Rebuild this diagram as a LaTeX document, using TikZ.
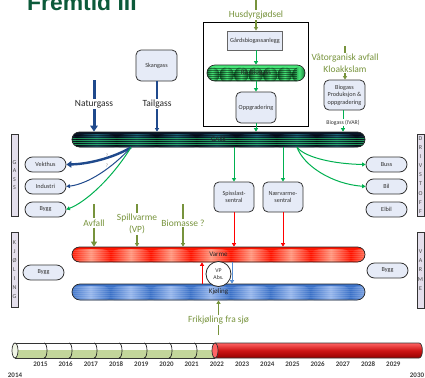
\documentclass[tikz,border=0pt]{standalone}
\usepackage{fontspec}
\setmainfont{Carlito}
\newfontfamily\titlefont{Liberation Sans}
\usetikzlibrary{arrows.meta,calc}
\definecolor{ogreen}{RGB}{119,147,60}
\definecolor{agreen}{RGB}{0,176,80}
\definecolor{dblue}{RGB}{31,73,140}
\definecolor{lblue}{RGB}{85,142,213}
\definecolor{boxfill}{RGB}{230,235,247}
\definecolor{lav}{RGB}{228,223,236}
\definecolor{titlegreen}{RGB}{12,90,58}
\definecolor{gdark}{RGB}{8,20,38}
\definecolor{gmid}{RGB}{30,100,120}
\definecolor{gline}{RGB}{45,195,105}
\definecolor{rdark}{RGB}{15,90,40}
\definecolor{rlight}{RGB}{70,230,120}
\definecolor{vred}{RGB}{255,20,0}
\definecolor{vlight}{RGB}{255,150,125}
\definecolor{kblue}{RGB}{60,114,200}
\definecolor{klight}{RGB}{150,182,236}
\definecolor{tlgreen}{RGB}{195,214,155}
\definecolor{tllight}{RGB}{240,245,230}
\definecolor{tlrtop}{RGB}{255,100,100}
\definecolor{tlrmid}{RGB}{205,20,20}
\definecolor{tlrbot}{RGB}{150,0,0}
\tikzset{
  lbl/.style={font=\fontsize{9.5}{11.5}\selectfont, text=ogreen, inner sep=1bp, align=center},
  blk/.style={font=\fontsize{9.5}{11.5}\selectfont, text=black!85, inner sep=1bp},
  rbox/.style={draw=black!80, line width=0.8bp, fill=boxfill, rounded corners=5bp, align=center,
    font=\fontsize{6.2}{7.6}\selectfont, text=black!80, inner sep=0},
  pill/.style={draw=black!80, line width=0.8bp, fill=boxfill, rounded corners=7.5bp,
    minimum width=41bp, minimum height=15bp, font=\fontsize{6.2}{7}\selectfont, text=black!80, inner sep=0},
  vbox/.style={draw=black!80, line width=0.7bp, fill=lav, minimum width=7bp, inner sep=0, align=center,
    text=black!70},
  bar/.style={draw=black!85, line width=0.7bp, inner sep=0, font=\fontsize{7}{8}\selectfont, text=black!85},
  arr/.style={-{Triangle[length=3.5bp,width=4bp]}},
  ga/.style={agreen, line width=1bp, arr},
  ra/.style={red, line width=1bp, arr},
  og/.style={ogreen, line width=1.1bp},
  yrs/.style={font=\bfseries\fontsize{7}{8}\selectfont, text=black!75, inner sep=0},
}
\begin{document}
\begin{tikzpicture}[x=1bp,y=-1bp]
\useasboundingbox (0,0) rectangle (425,378);
% ---------- title
\node[anchor=base west, inner sep=0, font=\titlefont\bfseries\fontsize{23}{23}\selectfont, text=titlegreen] (title) at (27,10) {Fremtid III};

% ---------- biogas plant
\node[draw=black, line width=0.9bp, minimum width=105bp, minimum height=104bp, inner sep=0] (plant) at (255.5,74) {};
\node[lbl] (husd) at (256,15) {Husdyrgjødsel};
\coordinate (husdtop) at (256,0);
\node[draw=black!60, line width=0.8bp, fill=boxfill, minimum width=55bp, minimum height=19bp, inner sep=0,
  font=\fontsize{6.2}{7}\selectfont, text=black!80] (gard) at (255,40.5) {Gårdsbiogassanlegg};
\node[bar, rounded corners=8bp, minimum width=98bp, minimum height=16bp, fill=rlight, path picture={
   \foreach \k in {0,...,9} \shade[left color=rdark, right color=rdark, middle color=rlight] (-65+14.5*\k,-8) rectangle ++(14.5,16);
   \foreach \yy in {-7,-5,...,7} \draw[black, opacity=.45, line width=.45bp] (-56,\yy) -- (56,\yy);
  }] (raa) at (256,73) {Rå-biogass};
\node[rbox, minimum width=40bp, minimum height=31bp] (oppg) at (256,107.5) {Oppgradering};

% ---------- other sources
\node[rbox, minimum width=41bp, minimum height=31bp] (skang) at (156.5,65.5) {Skangass};
\node[blk] (natur) at (94,104) {Naturgass};
\coordinate (naturtop) at (94,80);
\node[blk] (tail) at (157,104) {Tailgass};
\node[rbox, minimum width=41bp, minimum height=30bp] (bprod) at (344.5,95) {Biogass\\Produksjon \&\\oppgradering};
\node[lbl] (vaat) at (345,63) {Våtorganisk avfall\\Kloakkslam};
\coordinate (vaattop) at (345,46);
\node[font=\fontsize{5.8}{7}\selectfont, text=black!80, inner sep=0.5bp] (ivar) at (343,122.5) {Biogass (IVAR)};

% ---------- GASS bar
\node[bar, rounded corners=7.5bp, minimum width=293bp, minimum height=15bp, fill=gdark, path picture={
   \foreach \k in {0,...,8} \shade[left color=gdark, right color=gdark, middle color=gmid] (-174.5+40*\k,-7.5) rectangle ++(40,15);
   \foreach \yy in {-6.5,-4.5,...,7.5} \draw[black, opacity=.45, line width=.5bp] (-160,\yy) -- (160,\yy);
   \foreach \yy in {-3,-1,1,3} \draw[gline, opacity=.7, line width=.6bp] (-160,\yy) -- (160,\yy);
  }] (gass) at (218.5,139.5) {GASS};
\coordinate (gl) at ([xshift=-87.5bp]gass.south);
\coordinate (gr) at ([xshift=78.5bp]gass.south);

% ---------- side label boxes
\node[vbox, minimum height=82bp, font=\fontsize{6}{8.6}\selectfont] (vgass) at (14.5,175) {G\\A\\S\\S};
\node[vbox, minimum height=75bp, font=\fontsize{6}{9}\selectfont] (vkjol) at (14.5,269.5) {K\\J\\Ø\\L\\I\\N\\G};
\node[vbox, minimum height=82bp, font=\fontsize{6}{9.1}\selectfont] (vdriv) at (420.5,175) {D\\R\\I\\V\\S\\T\\O\\F\\F};
\node[vbox, minimum height=76bp, font=\fontsize{6}{9.2}\selectfont] (vvarm) at (420.5,270) {V\\A\\R\\M\\E};

% ---------- consumers
\node[pill] (vekt) at (45.5,164.5) {Vekthus};
\node[pill] (indu) at (45.5,186.5) {Industri};
\node[pill] (byggg) at (45.5,209.5) {Bygg};
\node[pill] (byggk) at (43.5,272.5) {Bygg};
\node[pill] (buss) at (386.5,164.5) {Buss};
\node[pill] (bil) at (386.5,186.5) {Bil};
\node[pill] (elbil) at (386.5,209.5) {Elbil};
\node[pill] (byggv) at (387.5,270.5) {Bygg};
\node[rbox, minimum width=40bp, minimum height=30bp] (spiss) at (234,197) {Spisslast-\\sentral};
\node[rbox, minimum width=40bp, minimum height=30bp] (naer) at (283,197) {Nærvarme-\\sentral};

% ---------- Varme / Kjøling
\node[bar, rounded corners=7.5bp, minimum width=293bp, minimum height=15bp, fill=vred, path picture={
   \foreach \k in {0,...,8} \shade[left color=vred, right color=vred, middle color=vlight] (-178.5+40*\k,-7.5) rectangle ++(40,15);
   \foreach \yy in {-6.5,-4.5,...,7.5} \draw[white, opacity=.12, line width=.5bp] (-160,\yy) -- (160,\yy);
  }] (varme) at (218.5,254.5) {Varme};
\node[bar, rounded corners=8bp, minimum width=293bp, minimum height=16bp, fill=kblue, path picture={
   \foreach \k in {0,...,8} \shade[left color=kblue, right color=kblue, middle color=klight] (-178.5+40*\k,-8) rectangle ++(40,16);
   \foreach \yy in {-7,-5,...,8} \draw[white, opacity=.12, line width=.5bp] (-160,\yy) -- (160,\yy);
  }] (kjol) at (218.5,292) {Kjøling};
\node[circle, draw=black!85, line width=0.8bp, fill=white, minimum size=25bp, inner sep=0, align=center,
  font=\fontsize{5.8}{7.4}\selectfont, text=black!80] (vp) at (218.5,274) {VP\\Abs.};
\coordinate (xr) at (202,0);
\coordinate (xb) at (232,0);

\node[lbl] (avf) at (94,223) {Avfall};
\coordinate (avftop) at (94,204);
\node[lbl] (spill) at (137,224) {Spillvarme\\(VP)};
\coordinate (spilltop) at (137,204);
\node[lbl] (biom) at (183,223) {Biomasse ?};
\coordinate (biomtop) at (183,204);
\node[lbl] (frik) at (218.5,320) {Frikjøling fra sjø};
\coordinate (frikbot) at (218.5,335);

% ---------- connectors
\draw[og] (husdtop) -- (husd.north);
\draw[og, arr] (husd.south) -- (husd.south |- gard.north);
\draw[ga] (gard.south -| raa) -- (raa.north);
\draw[ga] (raa.south) -- (oppg.north);
\draw[ga] (oppg.south) -- (gass.north -| oppg);

\draw[dblue, line width=3bp] (naturtop) -- (natur.north);
\draw[dblue, line width=3bp, -{Triangle[length=6bp,width=7.5bp]}] (natur.south) -- (gass.north -| natur);
\draw[dblue, line width=1.1bp] (skang.south -| tail) -- (tail.north);
\draw[dblue, line width=1.1bp, arr] (tail.south) -- (gass.north -| tail);

\draw[og] (vaattop) -- (vaat.north);
\draw[og, arr] (vaat.south) -- (vaat.south |- bprod.north);
\draw[agreen, line width=1bp] (bprod.south -| ivar) -- (ivar.north);
\draw[ga] (ivar.south) -- (gass.north -| ivar);

\draw[dblue, line width=2.4bp, -{Triangle[length=5bp,width=6.5bp]}] (gl) .. controls (115,157) and (90,164) .. (vekt.east);
\draw[dblue, line width=1bp, arr] (gl) .. controls (112,168) and (88,184) .. (indu.east);
\draw[ga] (gl) .. controls (112,178) and (86,202) .. (byggg.east);
\node[font=\fontsize{5}{6}\selectfont, text=black!45, inner sep=0] (q1) at (107,155.5) {?};
\node[font=\fontsize{5}{6}\selectfont, text=black!45, inner sep=0] (q2) at (107,165.5) {?};

\draw[ga] (gr) .. controls (306,158) and (335,164) .. (buss.west);
\draw[ga] (gr) .. controls (304,166) and (332,184) .. (bil.west);

\draw[ga] (gass.south -| spiss) -- (spiss.north);
\draw[ga] (gass.south -| naer) -- (naer.north);
\draw[ra] (spiss.south) -- (varme.north -| spiss);
\draw[ra] (naer.south) -- (varme.north -| naer);

\draw[ogreen, line width=2.6bp] (avftop) -- (avf.north);
\draw[ogreen, line width=2.6bp, -{Triangle[length=5bp,width=6bp]}] (avf.south) -- (varme.north -| avf);
\draw[og] (spilltop) -- (spill.north);
\draw[og, arr] (spill.south) -- (varme.north -| spill);
\draw[og] (biomtop) -- (biom.north);
\draw[og, arr] (biom.south) -- (varme.north -| biom);

\draw[ra] (kjol.north -| xr) -- (varme.south -| xr);
\draw[lblue, line width=1bp, arr] (varme.south -| xb) -- (kjol.north -| xb);
\draw[og, arr] (frik.north) -- (kjol.south -| frik);
\draw[og] (frikbot) -- (frik.south);

% ---------- timeline
\fill[white] (15,343) rectangle (215,350);
\fill[tlgreen] (15,350) rectangle (215,358);
\draw[black!80, line width=.7bp] (15,343) -- (215,343) (15,358) -- (215,358);
\foreach \xx in {44,69,...,194} \draw[black!85, line width=.7bp] (\xx,343) .. controls (\xx+4,343) and (\xx+4,358) .. (\xx,358);
\draw[black!80, fill=tllight, line width=.7bp] (15,350.5) ellipse [x radius=3, y radius=7.5];
\shade[top color=tlrtop, bottom color=tlrbot, middle color=tlrmid] (215,343) -- (419,343) .. controls (423.5,343) and (423.5,358) .. (419,358) -- (215,358) -- cycle;
\draw[black!80, line width=.7bp] (215,343) -- (419,343) .. controls (423.5,343) and (423.5,358) .. (419,358) -- (215,358);
\draw[black!80, fill=tlrtop, line width=.7bp] (215,350.5) ellipse [x radius=3, y radius=7.5];
\foreach \yr [count=\i from 0] in {2015,...,2029} \node[yrs] (y\yr) at (40.5+25.2*\i,364) {\yr};
\node[yrs, anchor=base] (y2014) at (15,377.5) {2014};
\node[yrs, anchor=base] (y2030) at (417,377.5) {2030};
\end{tikzpicture}
\end{document}
